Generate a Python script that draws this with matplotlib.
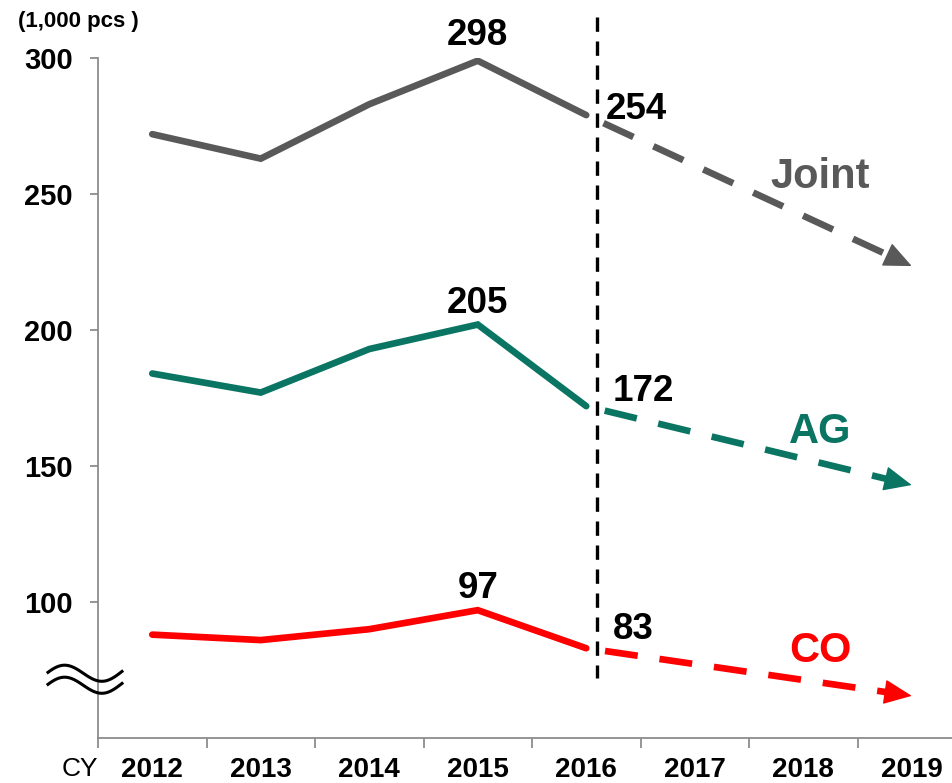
import numpy as np
import matplotlib
matplotlib.use("Agg")
import matplotlib.pyplot as plt
from matplotlib.lines import Line2D

plt.rcParams["font.family"] = ["Liberation Sans", "DejaVu Sans"]

# --------------------------------------------------------------------------
# Data
# --------------------------------------------------------------------------
years = ["2012", "2013", "2014", "2015", "2016", "2017", "2018", "2019"]
actual_idx = [0, 1, 2, 3, 4]

joint_actual = [272, 263, 283, 299, 279]
ag_actual = [184, 177, 193, 202, 172]
co_actual = [88, 86, 90, 97, 83]

# forecast: from 2016 value to the arrow tip at 2019
joint_forecast_end = 223.5
ag_forecast_end = 143
co_forecast_end = 65.5

peak_labels = ["298", "205", "97"]      # shown above 2015
last_labels = ["254", "172", "83"]      # shown right of 2016
series_names = ["Joint", "AG", "CO"]

C_JOINT = "#595959"
C_AG = "#0B7563"
C_CO = "#FF0000"
C_AXIS = "#8C8C8C"

# --------------------------------------------------------------------------
# Figure
# --------------------------------------------------------------------------
fig = plt.figure(figsize=(9.52, 7.83), dpi=100)
ax = fig.add_axes([98 / 952, 45 / 783, 854 / 952, 680 / 783])
ax.set_xlim(-0.5, -0.5 + 854 / 108.5)
ax.set_ylim(50, 300)

for s in ("top", "right"):
    ax.spines[s].set_visible(False)
for s in ("left", "bottom"):
    ax.spines[s].set_color(C_AXIS)
    ax.spines[s].set_linewidth(1.3)

ax.set_yticks([100, 150, 200, 250, 300])
ax.tick_params(axis="y", length=6, width=1.3, color=C_AXIS, pad=12,
               labelsize=21)
for t in ax.get_yticklabels():
    t.set_fontweight("bold")

ax.set_xticks(range(len(years)))
ax.set_xticklabels(years, fontsize=20, fontweight="bold")
ax.set_xticks(np.arange(-0.5, len(years) - 0.5, 1.0), minor=True)
ax.tick_params(axis="x", which="major", length=0, pad=14)
ax.tick_params(axis="x", which="minor", length=7, width=1.3, color=C_AXIS)

LW = 4.8
series = [
    (joint_actual, joint_forecast_end, C_JOINT),
    (ag_actual, ag_forecast_end, C_AG),
    (co_actual, co_forecast_end, C_CO),
]
last_x = actual_idx[-1]
tip_x = 7.0
for vals, end, col in series:
    ax.plot(actual_idx, vals, color=col, lw=LW, solid_capstyle="round",
            solid_joinstyle="miter", zorder=3)
    # dashed forecast, starting with a gap past the divider and
    # stopping where the arrow head begins
    frac = 0.93
    bx = last_x + (tip_x - last_x) * frac
    by = vals[-1] + (end - vals[-1]) * frac
    ax.plot([last_x, bx], [vals[-1], by], color=col, lw=LW,
            linestyle=(5.4, (4.95, 3.3)), dash_capstyle="butt", zorder=3)
    ax.annotate("", xy=(tip_x, end), xytext=(bx, by),
                arrowprops=dict(arrowstyle="-|>,head_length=1.8,head_width=0.8",
                                color=col, lw=1, shrinkA=0, shrinkB=0),
                zorder=4)

# vertical divider between actual and forecast
ax.plot([4.1, 4.1], [315, 72], color="black", lw=2.4,
        linestyle=(0, (4.3, 2.9)), clip_on=False, zorder=5)

# value labels
peak_vals = [joint_actual[3], ag_actual[3], co_actual[3]]
peak_dy = [11, 8, 9]
for lab, v, dy in zip(peak_labels, peak_vals, peak_dy):
    ax.annotate(lab, xy=(3, v), xytext=(0, dy), textcoords="offset points",
                ha="center", va="baseline", fontsize=26.5, fontweight="bold")

last_offsets = [(14, -3), (19, 4), (19, 7)]
last_vals = [joint_actual[4], ag_actual[4], co_actual[4]]
for lab, v, off in zip(last_labels, last_vals, last_offsets):
    ax.annotate(lab, xy=(4, v), xytext=off, textcoords="offset points",
                ha="left", va="baseline", fontsize=26.5, fontweight="bold")

# series names above the forecast arrows
name_x = 6.16
name_dy = [26, 14.5, 15]
ends = [joint_forecast_end, ag_forecast_end, co_forecast_end]
for name, v0, v1, dy, col in zip(series_names, last_vals, ends, name_dy,
                                 [C_JOINT, C_AG, C_CO]):
    ny = v0 + (v1 - v0) * (name_x - last_x) / (tip_x - last_x)
    ax.annotate(name, xy=(name_x, ny), xytext=(0, dy),
                textcoords="offset points", ha="center", va="baseline",
                fontsize=30, fontweight="bold", color=col)

# unit and axis captions
fig.text(18 / 952, 1 - 22 / 783, "(1,000 pcs )", fontsize=16,
         fontweight="bold", ha="left", va="center")
fig.text(62 / 952, 1 - 769 / 783, "CY", fontsize=19, ha="left",
         va="center")

# axis break mark
bx_px = np.linspace(48, 122, 60)
wave = 9 * np.sin((bx_px - 48) / 74 * 2 * np.pi * 0.95 + 0.3)
for off in (0, 12):
    y_px = 675 + off - (bx_px - 48) * 0.05 - wave
    fig.add_artist(Line2D(bx_px / 952, 1 - y_px / 783, color="black",
                          lw=2.2, transform=fig.transFigure))

fig.savefig("out.png", dpi=100)
